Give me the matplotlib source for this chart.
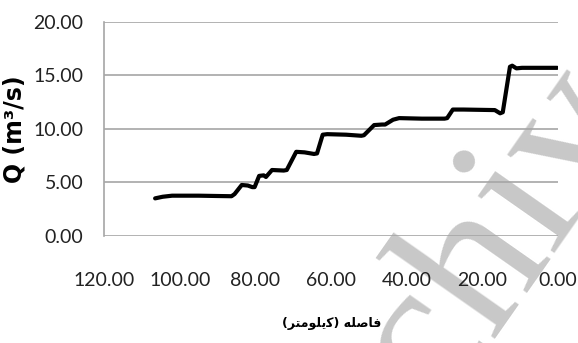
import numpy as np
from matplotlib import pyplot as plt

# discharge along the river, distance measured upstream from the outlet
dist_km = [106.5, 104.5, 102.0, 95.0, 90.0, 86.3, 85.5, 83.6, 82.0, 80.8,
           80.2, 79.0, 77.8, 77.2, 75.6, 72.5, 71.7, 69.2, 67.0, 64.5,
           63.7, 62.2, 61.0, 56.0, 52.0, 51.3, 48.6, 46.5, 45.7, 43.6,
           42.0, 36.0, 30.0, 29.3, 27.8, 25.0, 16.7, 15.3, 14.6, 12.7,
           12.1, 11.0, 9.5, 0.2]
q_m3s = [3.50, 3.65, 3.75, 3.75, 3.72, 3.70, 3.90, 4.75, 4.70, 4.55,
         4.55, 5.60, 5.65, 5.50, 6.15, 6.10, 6.15, 7.85, 7.80, 7.65,
         7.70, 9.45, 9.50, 9.45, 9.35, 9.40, 10.35, 10.40, 10.40, 10.85,
         11.00, 10.95, 10.95, 11.00, 11.80, 11.80, 11.75, 11.45, 11.55, 15.80,
         15.90, 15.65, 15.70, 15.70]

x_ticks = [120, 100, 80, 60, 40, 20, 0]
y_ticks = [0, 5, 10, 15, 20]

# "فاصله (کیلومتر)" written with presentation forms in visual order
x_label = "(\uFEAE\uFE98\uFEE3\uFEEE\uFEE0\uFBFE\uFB90) \uFEEA\uFEE0\uFEBB\uFE8E\uFED3"
y_label = "Q (m\u00b3/s)"

plt.rcParams['font.family'] = ['Lato', 'DejaVu Sans']

fig = plt.figure(figsize=(5.78, 3.43), dpi=100)
ax = fig.add_axes([0.180, 0.3125, 0.7854, 0.6239])
ax.patch.set_alpha(0)

fig.text(0.5415, -0.7376, "Archive", family='Liberation Serif', fontsize=150,
         color='#c8c8c8', rotation=55, rotation_mode='anchor',
         ha='left', va='baseline', zorder=-5)

ax.plot(dist_km, q_m3s, color='black', lw=3.0, solid_joinstyle='round',
        solid_capstyle='round', zorder=3)

ax.set_xlim(120, 0)
ax.set_ylim(0, 20)
ax.set_xticks(x_ticks)
ax.set_yticks(y_ticks)
ax.set_xticklabels(["%.2f" % v for v in x_ticks])
ax.set_yticklabels(["%.2f" % v for v in y_ticks])
ax.tick_params(length=0, labelsize=14, colors='#222222')
ax.tick_params(axis='x', pad=26)
ax.tick_params(axis='y', pad=15)

ax.grid(axis='y', color='#a6a6a6', lw=1.2)
ax.set_axisbelow(True)
for s in ['top', 'right', 'bottom']:
    ax.spines[s].set_visible(False)
ax.spines['left'].set_color('#a6a6a6')
ax.spines['left'].set_linewidth(1.2)

ax.set_ylabel(y_label, family='DejaVu Sans', fontweight='bold', fontsize=17)
ax.yaxis.set_label_coords(-0.17, 0.5)
fig.text(0.573, 0.058, x_label, family='DejaVu Sans', fontweight='bold',
         fontsize=9, ha='center', va='center')

fig.savefig("out.png", dpi=100)
